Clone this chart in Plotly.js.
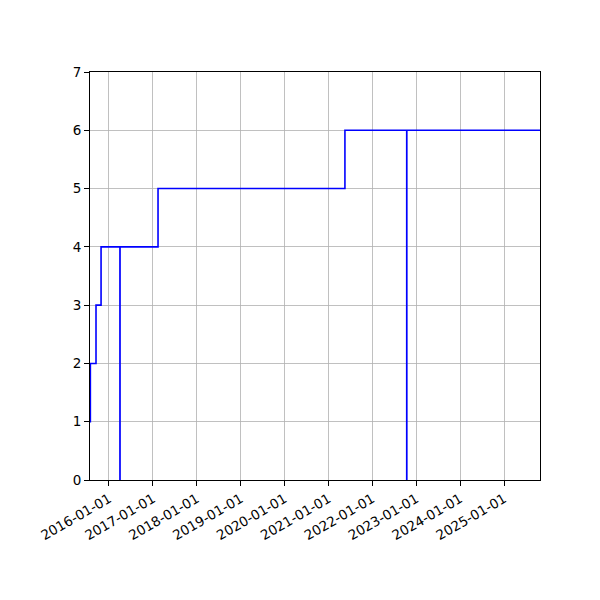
<!DOCTYPE html>
<html>
<head>
<meta charset="utf-8">
<script src="https://cdn.plot.ly/plotly-3.0.1.min.js"></script>
<style>
  html, body { margin: 0; padding: 0; background: #fff; }
  #plot { width: 600px; height: 600px; }
</style>
</head>
<body>
<div id="plot"></div>
<script>
// step series (value holds until the next date)
const dates = ['2015-07-27', '2015-07-30', '2015-09-15', '2015-10-27',
               '2016-04-01', '2016-04-02', '2017-02-12', '2021-05-17',
               '2022-10-13', '2022-10-14', '2025-10-26']
const values = [1, 2, 3, 4, 0, 4, 5, 6, 0, 6, 6]

const xRange = ['2015-07-27', '2025-10-26']
const yTicks = [0, 1, 2, 3, 4, 5, 6, 7]

const trace = {
  x: dates,
  y: values,
  type: 'scatter',
  mode: 'lines',
  line: {color: '#0000ff', width: 1.6, shape: 'hv'},
  hoverinfo: 'x+y'
}

const axisCommon = {
  showline: true,
  linecolor: '#000',
  linewidth: 1,
  mirror: true,
  showgrid: true,
  gridcolor: '#b0b0b0',
  gridwidth: 0.8,
  ticks: 'outside',
  ticklen: 5,
  tickwidth: 1,
  tickcolor: '#000',
  zeroline: false,
  tickfont: {family: 'DejaVu Sans', size: 13.5, color: '#000'}
}

const layout = {
  width: 600,
  height: 600,
  margin: {l: 90, r: 60, t: 72, b: 120},
  paper_bgcolor: '#fff',
  plot_bgcolor: '#fff',
  showlegend: false,
  xaxis: Object.assign({}, axisCommon, {
    type: 'date',
    range: xRange,
    tick0: '2016-01-01',
    dtick: 'M12',
    tickformat: '%Y-%m-%d',
    tickangle: -30
  }),
  yaxis: Object.assign({}, axisCommon, {
    range: [0, 7],
    tickvals: yTicks,
    ticktext: yTicks.map(String)
  })
}

Plotly.newPlot('plot', [trace], layout, {displayModeBar: false, staticPlot: true})
</script>
</body>
</html>
